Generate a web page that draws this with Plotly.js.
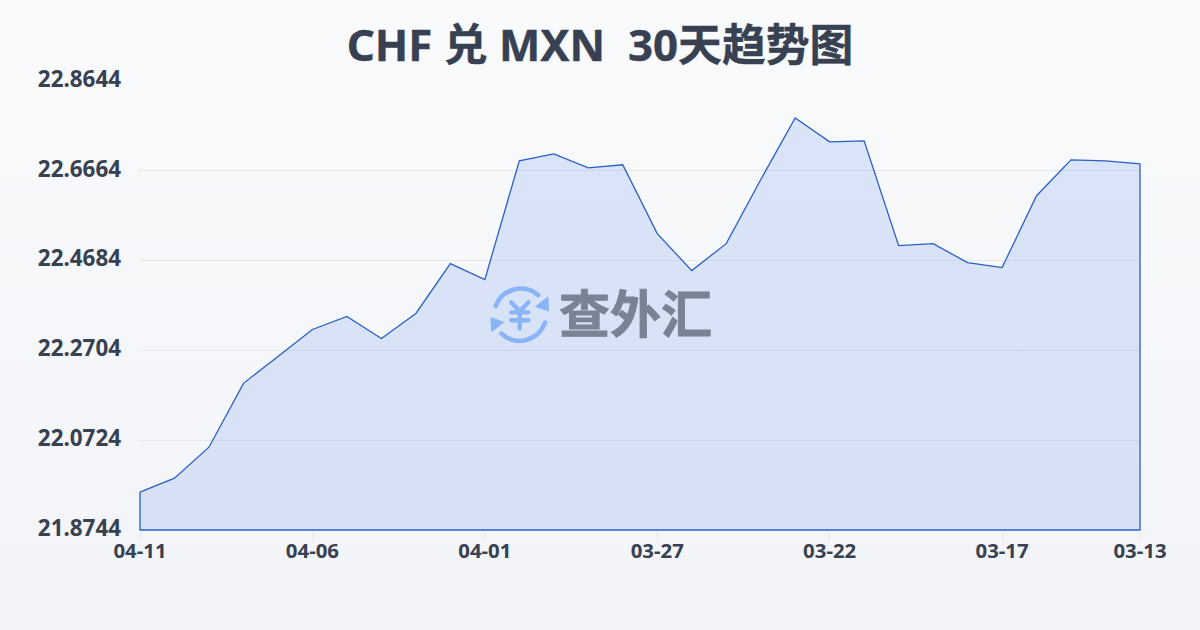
<!DOCTYPE html>
<html><head><meta charset="utf-8">
<script src="https://cdn.plot.ly/plotly-3.0.1.min.js"></script>
<style>
html,body{margin:0;padding:0;width:1200px;height:630px;overflow:hidden;background:linear-gradient(180deg,#f9fafc 0%,#f3f4f7 100%);}
#c{width:1200px;height:630px;}
.annotation-text{stroke:#7a8394;stroke-width:0.8px;}
.gtitle{stroke:#374151;stroke-width:0.4px;}
</style></head><body><div id="c"></div>
<script>
const dates=["04-11","04-10","04-09","04-08","04-07","04-06","04-05","04-04","04-03","04-02","04-01","03-31","03-30","03-29","03-28","03-27","03-26","03-25","03-24","03-23","03-22","03-21","03-20","03-19","03-18","03-17","03-16","03-15","03-14","03-13"];
const rates=[21.9580,21.9888,22.0570,22.1978,22.2572,22.3166,22.3452,22.2968,22.3518,22.4618,22.4266,22.6884,22.7038,22.6730,22.6796,22.5278,22.4464,22.5058,22.6466,22.7830,22.7302,22.7324,22.5014,22.5058,22.4640,22.4530,22.6114,22.6906,22.6884,22.6818];
const yTicks=[21.8744,22.0724,22.2704,22.4684,22.6664,22.8644];
const xTicks=["04-11","04-06","04-01","03-27","03-22","03-17","03-13"];
const base=yTicks[0], top_=yTicks[yTicks.length-1];
const fontLatin='"Noto Sans","Noto Sans CJK SC",sans-serif';
const logo='<svg xmlns="http://www.w3.org/2000/svg" viewBox="55 40 190 190"><g fill="none" stroke="#8ab4f8" stroke-width="14" stroke-linecap="round"><path d="M78 108A80 80 0 0 1 205 75"/><path d="M226 158A80 80 0 0 1 95 191"/></g><path d="M236 78L238 125L196 110Z" fill="#8ab4f8"/><path d="M64 188L62 141L104 156Z" fill="#8ab4f8"/><g fill="none" stroke="#8ab4f8" stroke-width="13" stroke-linecap="round"><path d="M124 97L150 124L176 97M124 127H176M124 151H176M150 124V176"/></g></svg>';
Plotly.newPlot('c',[{
  type:'scatter',mode:'lines',cliponaxis:false,
  x:[...dates,dates[dates.length-1],dates[0],dates[0]],
  y:[...rates,base,base,rates[0]],
  fill:'toself',
  fillgradient:{type:'vertical',colorscale:[[0,'rgba(52,110,225,0.15)'],[1,'rgba(55,115,232,0.155)']]},
  line:{color:'#2b5fc7',width:1.3,shape:'linear'},
  hoverinfo:'skip'
}],{
  width:1200,height:630,
  paper_bgcolor:'rgba(0,0,0,0)',plot_bgcolor:'rgba(0,0,0,0)',
  margin:{l:139,r:58.5,t:80.5,b:98.5},
  showlegend:false,
  title:{text:'CHF 兑 MXN  30天趋势图',x:0.5,xanchor:'center',y:0.928,yanchor:'middle',font:{family:fontLatin,size:43.8,color:'#374151',weight:700}},
  xaxis:{type:'category',categoryorder:'array',categoryarray:dates,range:[-0.029,dates.length-1+0.029],tickmode:'array',tickvals:xTicks,ticktext:xTicks,
    showgrid:false,zeroline:false,showline:false,ticks:'outside',ticklen:9,tickwidth:1,tickcolor:'#e5e7eb',ticklabelstandoff:-7,
    tickfont:{family:fontLatin,size:20.4,color:'#374151',weight:700}},
  yaxis:{range:[base-0.0022,top_],tickmode:'array',tickvals:yTicks,ticktext:yTicks.map(v=>v.toFixed(4)),
    showgrid:true,gridcolor:'#e5e7eb',gridwidth:1,zeroline:false,showline:false,ticks:'',ticklen:0,
    ticklabelstandoff:17,ticklabelshift:-2,
    tickfont:{family:fontLatin,size:22.4,color:'#374151',weight:700}},
  images:[{source:'data:image/svg+xml;utf8,'+encodeURIComponent(logo),xref:'paper',yref:'paper',x:0.3484,y:0.5503,sizex:0.06317,sizey:0.1404,xanchor:'left',yanchor:'top',sizing:'contain',layer:'above'}],
  annotations:[{text:'查外汇',xref:'paper',yref:'paper',x:0.496,y:0.49,xanchor:'center',yanchor:'middle',showarrow:false,font:{family:'"Noto Sans CJK SC",sans-serif',size:51,color:'#7a8394',weight:700}}]
},{displayModeBar:false,staticPlot:true});
</script></body></html>
